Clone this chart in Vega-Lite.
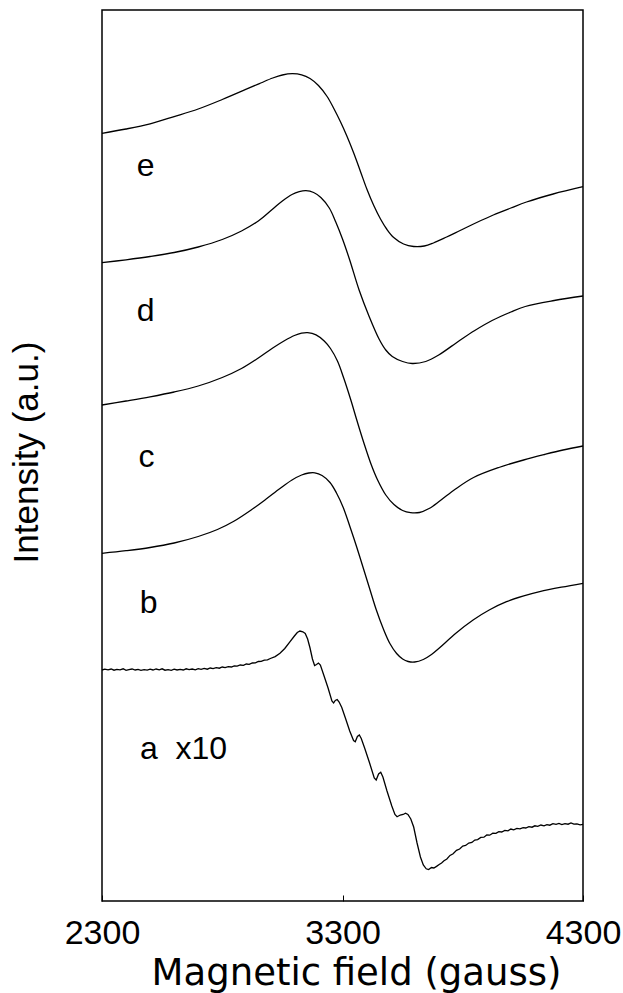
{
  "$schema": "https://vega.github.io/schema/vega-lite/v6.json",
  "width": 481,
  "height": 891,
  "autosize": {"type": "none"},
  "padding": {"left": 102, "top": 10, "right": 40, "bottom": 92},
  "background": "white",
  "config": {"view": {"stroke": "black", "strokeWidth": 1.5}, "font": "Liberation Sans"},
  "datasets": {
    "curves": [
      {"s":"e","B":2300,"I":767.7},{"s":"e","B":2400,"I":772},{"s":"e","B":2500,"I":777.2},{"s":"e","B":2600,"I":784.4},{"s":"e","B":2700,"I":792},{"s":"e","B":2800,"I":801.5},{"s":"e","B":2900,"I":811.8},{"s":"e","B":2960,"I":818},{"s":"e","B":3010,"I":823},{"s":"e","B":3050,"I":826},{"s":"e","B":3091,"I":827.3},{"s":"e","B":3130,"I":826.2},{"s":"e","B":3165,"I":822.5},{"s":"e","B":3200,"I":815.5},{"s":"e","B":3236,"I":804.5},{"s":"e","B":3265,"I":792},{"s":"e","B":3292,"I":779},{"s":"e","B":3319,"I":764.5},{"s":"e","B":3347,"I":747.7},{"s":"e","B":3375,"I":729.3},{"s":"e","B":3402,"I":711.5},{"s":"e","B":3430,"I":695.5},{"s":"e","B":3458,"I":682},{"s":"e","B":3485,"I":671.5},{"s":"e","B":3513,"I":663.5},{"s":"e","B":3554,"I":657},{"s":"e","B":3596,"I":654.5},{"s":"e","B":3640,"I":655},{"s":"e","B":3678,"I":658},{"s":"e","B":3733,"I":664},{"s":"e","B":3789,"I":670.5},{"s":"e","B":3858,"I":678.5},{"s":"e","B":3927,"I":686},{"s":"e","B":4000,"I":693},{"s":"e","B":4065,"I":699},{"s":"e","B":4176,"I":707},{"s":"e","B":4300,"I":714.3},
      {"s":"d","B":2300,"I":638.3},{"s":"d","B":2400,"I":641.2},{"s":"d","B":2500,"I":644.5},{"s":"d","B":2600,"I":648.5},{"s":"d","B":2700,"I":654},{"s":"d","B":2800,"I":661.5},{"s":"d","B":2880,"I":670},{"s":"d","B":2950,"I":680},{"s":"d","B":3010,"I":692},{"s":"d","B":3050,"I":700},{"s":"d","B":3090,"I":706.5},{"s":"d","B":3120,"I":709.3},{"s":"d","B":3148,"I":710.3},{"s":"d","B":3180,"I":708.5},{"s":"d","B":3210,"I":703.5},{"s":"d","B":3245,"I":693},{"s":"d","B":3272,"I":679},{"s":"d","B":3300,"I":662},{"s":"d","B":3330,"I":641},{"s":"d","B":3369,"I":611},{"s":"d","B":3410,"I":585},{"s":"d","B":3452,"I":562},{"s":"d","B":3480,"I":551},{"s":"d","B":3507,"I":544.5},{"s":"d","B":3550,"I":539.5},{"s":"d","B":3590,"I":537.5},{"s":"d","B":3646,"I":539.5},{"s":"d","B":3700,"I":546},{"s":"d","B":3784,"I":560},{"s":"d","B":3850,"I":570.5},{"s":"d","B":3922,"I":580.5},{"s":"d","B":4000,"I":589},{"s":"d","B":4060,"I":594.5},{"s":"d","B":4180,"I":600.5},{"s":"d","B":4300,"I":605},
      {"s":"c","B":2300,"I":496},{"s":"c","B":2400,"I":500},{"s":"c","B":2500,"I":504.2},{"s":"c","B":2600,"I":509},{"s":"c","B":2700,"I":515},{"s":"c","B":2800,"I":523.5},{"s":"c","B":2880,"I":532.5},{"s":"c","B":2950,"I":543},{"s":"c","B":3010,"I":553},{"s":"c","B":3060,"I":560.5},{"s":"c","B":3100,"I":565.5},{"s":"c","B":3130,"I":567.8},{"s":"c","B":3155,"I":568.3},{"s":"c","B":3190,"I":566.2},{"s":"c","B":3224,"I":560},{"s":"c","B":3250,"I":552.5},{"s":"c","B":3279,"I":540},{"s":"c","B":3305,"I":523},{"s":"c","B":3334,"I":501.5},{"s":"c","B":3360,"I":480.5},{"s":"c","B":3389,"I":458},{"s":"c","B":3420,"I":436},{"s":"c","B":3445,"I":421.5},{"s":"c","B":3480,"I":406},{"s":"c","B":3514,"I":396.5},{"s":"c","B":3550,"I":390.5},{"s":"c","B":3583,"I":388.3},{"s":"c","B":3620,"I":388.5},{"s":"c","B":3660,"I":392.5},{"s":"c","B":3707,"I":400.5},{"s":"c","B":3770,"I":412},{"s":"c","B":3845,"I":423.5},{"s":"c","B":3950,"I":433.5},{"s":"c","B":4053,"I":441},{"s":"c","B":4140,"I":446.5},{"s":"c","B":4217,"I":451},{"s":"c","B":4300,"I":455},
      {"s":"b","B":2300,"I":347.7},{"s":"b","B":2400,"I":350.3},{"s":"b","B":2500,"I":353.5},{"s":"b","B":2600,"I":358},{"s":"b","B":2700,"I":364.5},{"s":"b","B":2780,"I":371.5},{"s":"b","B":2850,"I":380},{"s":"b","B":2920,"I":391},{"s":"b","B":2980,"I":401.5},{"s":"b","B":3040,"I":412.5},{"s":"b","B":3090,"I":421},{"s":"b","B":3130,"I":426},{"s":"b","B":3160,"I":428},{"s":"b","B":3185,"I":428.2},{"s":"b","B":3215,"I":425.5},{"s":"b","B":3248,"I":418.5},{"s":"b","B":3275,"I":408},{"s":"b","B":3303,"I":393.5},{"s":"b","B":3330,"I":375},{"s":"b","B":3359,"I":354},{"s":"b","B":3385,"I":334},{"s":"b","B":3414,"I":311.5},{"s":"b","B":3440,"I":291.5},{"s":"b","B":3470,"I":272},{"s":"b","B":3497,"I":257.5},{"s":"b","B":3525,"I":247.5},{"s":"b","B":3550,"I":242},{"s":"b","B":3573,"I":239.5},{"s":"b","B":3600,"I":239},{"s":"b","B":3636,"I":241.5},{"s":"b","B":3670,"I":246.5},{"s":"b","B":3705,"I":253.5},{"s":"b","B":3770,"I":267.5},{"s":"b","B":3843,"I":281},{"s":"b","B":3910,"I":291},{"s":"b","B":3982,"I":299.3},{"s":"b","B":4050,"I":304.8},{"s":"b","B":4120,"I":309.3},{"s":"b","B":4210,"I":313.8},{"s":"b","B":4300,"I":317.7},
      {"s":"a","B":2300,"I":231},{"s":"a","B":2312,"I":231.8},{"s":"a","B":2325,"I":231.2},{"s":"a","B":2338,"I":232},{"s":"a","B":2350,"I":230.8},{"s":"a","B":2362,"I":231.6},{"s":"a","B":2375,"I":231.2},{"s":"a","B":2388,"I":232.2},{"s":"a","B":2400,"I":230.6},{"s":"a","B":2412,"I":231.4},{"s":"a","B":2425,"I":232},{"s":"a","B":2438,"I":231},{"s":"a","B":2450,"I":231.6},{"s":"a","B":2462,"I":230.6},{"s":"a","B":2475,"I":231.4},{"s":"a","B":2488,"I":230.8},{"s":"a","B":2500,"I":231.8},{"s":"a","B":2512,"I":231},{"s":"a","B":2525,"I":232},{"s":"a","B":2538,"I":231.2},{"s":"a","B":2550,"I":232.2},{"s":"a","B":2562,"I":230.8},{"s":"a","B":2575,"I":231.4},{"s":"a","B":2588,"I":230.6},{"s":"a","B":2600,"I":231.8},{"s":"a","B":2612,"I":231},{"s":"a","B":2625,"I":231.6},{"s":"a","B":2638,"I":231},{"s":"a","B":2650,"I":232.2},{"s":"a","B":2662,"I":231.4},{"s":"a","B":2675,"I":232},{"s":"a","B":2688,"I":231.2},{"s":"a","B":2700,"I":232.4},{"s":"a","B":2712,"I":231.6},{"s":"a","B":2725,"I":232.6},{"s":"a","B":2738,"I":231.8},{"s":"a","B":2750,"I":233},{"s":"a","B":2762,"I":232.4},{"s":"a","B":2775,"I":233.4},{"s":"a","B":2788,"I":232.8},{"s":"a","B":2800,"I":234},{"s":"a","B":2812,"I":233.4},{"s":"a","B":2825,"I":234.4},{"s":"a","B":2838,"I":234},{"s":"a","B":2850,"I":235.2},{"s":"a","B":2862,"I":234.8},{"s":"a","B":2875,"I":236},{"s":"a","B":2888,"I":235.6},{"s":"a","B":2900,"I":237},{"s":"a","B":2912,"I":236.6},{"s":"a","B":2925,"I":238},{"s":"a","B":2938,"I":238.2},{"s":"a","B":2950,"I":239.5},{"s":"a","B":2962,"I":239.6},{"s":"a","B":2975,"I":240.8},{"s":"a","B":2988,"I":241.2},{"s":"a","B":3000,"I":242.5},{"s":"a","B":3020,"I":244.4},{"s":"a","B":3040,"I":247.7},{"s":"a","B":3060,"I":252.5},{"s":"a","B":3082,"I":259.3},{"s":"a","B":3100,"I":265},{"s":"a","B":3112,"I":268.5},{"s":"a","B":3123,"I":270},{"s":"a","B":3135,"I":269.2},{"s":"a","B":3145,"I":267.5},{"s":"a","B":3155,"I":262},{"s":"a","B":3165,"I":253},{"s":"a","B":3175,"I":242},{"s":"a","B":3184,"I":235.5},{"s":"a","B":3192,"I":236.5},{"s":"a","B":3200,"I":238},{"s":"a","B":3208,"I":236},{"s":"a","B":3222,"I":226},{"s":"a","B":3240,"I":213},{"s":"a","B":3256,"I":200},{"s":"a","B":3263,"I":198},{"s":"a","B":3270,"I":200.5},{"s":"a","B":3278,"I":201.5},{"s":"a","B":3286,"I":199},{"s":"a","B":3297,"I":193.5},{"s":"a","B":3312,"I":183},{"s":"a","B":3330,"I":170},{"s":"a","B":3346,"I":160.5},{"s":"a","B":3353,"I":159.3},{"s":"a","B":3362,"I":164.5},{"s":"a","B":3370,"I":166},{"s":"a","B":3378,"I":162.5},{"s":"a","B":3392,"I":153},{"s":"a","B":3412,"I":138.5},{"s":"a","B":3432,"I":123},{"s":"a","B":3440,"I":121},{"s":"a","B":3450,"I":127},{"s":"a","B":3459,"I":128.7},{"s":"a","B":3468,"I":124},{"s":"a","B":3485,"I":110},{"s":"a","B":3505,"I":95},{"s":"a","B":3518,"I":86.5},{"s":"a","B":3527,"I":84.3},{"s":"a","B":3540,"I":86},{"s":"a","B":3552,"I":86.5},{"s":"a","B":3562,"I":87.8},{"s":"a","B":3572,"I":86.5},{"s":"a","B":3584,"I":82},{"s":"a","B":3596,"I":74},{"s":"a","B":3610,"I":58},{"s":"a","B":3624,"I":44},{"s":"a","B":3636,"I":36},{"s":"a","B":3648,"I":32.2},{"s":"a","B":3658,"I":31.5},{"s":"a","B":3670,"I":33.5},{"s":"a","B":3680,"I":33},{"s":"a","B":3691,"I":34.6},{"s":"a","B":3702,"I":36.5},{"s":"a","B":3712,"I":38},{"s":"a","B":3722,"I":40.2},{"s":"a","B":3734,"I":42},{"s":"a","B":3747,"I":45.6},{"s":"a","B":3760,"I":47.2},{"s":"a","B":3774,"I":50.6},{"s":"a","B":3787,"I":52},{"s":"a","B":3800,"I":55},{"s":"a","B":3812,"I":55.6},{"s":"a","B":3825,"I":58},{"s":"a","B":3838,"I":58.6},{"s":"a","B":3850,"I":61},{"s":"a","B":3862,"I":61.4},{"s":"a","B":3875,"I":63.6},{"s":"a","B":3888,"I":63.8},{"s":"a","B":3900,"I":66},{"s":"a","B":3912,"I":65.8},{"s":"a","B":3925,"I":67.8},{"s":"a","B":3938,"I":67.6},{"s":"a","B":3950,"I":69.4},{"s":"a","B":3962,"I":69},{"s":"a","B":3975,"I":70.6},{"s":"a","B":3988,"I":70.2},{"s":"a","B":4000,"I":72},{"s":"a","B":4012,"I":71.2},{"s":"a","B":4025,"I":72.6},{"s":"a","B":4038,"I":72.2},{"s":"a","B":4051,"I":73.4},{"s":"a","B":4062,"I":73},{"s":"a","B":4075,"I":74.4},{"s":"a","B":4088,"I":73.8},{"s":"a","B":4100,"I":75.2},{"s":"a","B":4112,"I":74.6},{"s":"a","B":4125,"I":76},{"s":"a","B":4138,"I":75.2},{"s":"a","B":4150,"I":76.4},{"s":"a","B":4162,"I":75.8},{"s":"a","B":4175,"I":77.4},{"s":"a","B":4188,"I":76.6},{"s":"a","B":4200,"I":77.6},{"s":"a","B":4212,"I":76.4},{"s":"a","B":4225,"I":77.4},{"s":"a","B":4238,"I":76.8},{"s":"a","B":4250,"I":78},{"s":"a","B":4262,"I":76.8},{"s":"a","B":4275,"I":77.2},{"s":"a","B":4288,"I":76.2},{"s":"a","B":4300,"I":76.6}
    ],
    "labels": [
      {"label":"e","B":2445,"I":725},
      {"label":"d","B":2445,"I":580},
      {"label":"c","B":2452,"I":434},
      {"label":"b","B":2457,"I":288},
      {"label":"a\u00a0\u00a0x10","B":2458,"I":142}
    ]
  },
  "encoding": {
    "x": {"field": "B", "type": "quantitative", "scale": {"domain": [2300, 4300], "nice": false, "zero": false},
      "axis": {"title": "Magnetic field (gauss)", "values": [2300, 3300, 4300], "format": "d", "grid": false, "domain": false,
        "tickSize": -6, "tickColor": "black", "tickWidth": 1,
        "labelFontSize": 34, "labelFont": "Liberation Sans", "labelColor": "black", "labelBaseline": "alphabetic", "labelPadding": 48, "labelFlush": false, "labelOverlap": false,
        "titleFontSize": 37, "titleFont": "DejaVu Sans", "titleFontWeight": "normal", "titleColor": "black", "titleBaseline": "alphabetic", "titleAlign": "center", "titleX": 254, "titleY": 83}},
    "y": {"field": "I", "type": "quantitative", "scale": {"domain": [0, 891], "nice": false, "zero": false},
      "axis": {"title": "Intensity (a.u.)", "ticks": false, "labels": false, "domain": false, "grid": false,
        "titleFontSize": 35, "titleFont": "Liberation Sans", "titleFontWeight": "normal", "titleColor": "black", "titleAngle": -90, "titleBaseline": "alphabetic", "titleAlign": "center", "titleX": -65, "titleY": 442}}
  },
  "layer": [
    {
      "data": {"name": "curves"},
      "transform": [{"filter": "datum.s !== 'a'"}],
      "mark": {"type": "line", "color": "black", "strokeWidth": 1.3, "interpolate": "catmull-rom"},
      "encoding": {"detail": {"field": "s", "type": "nominal"}}
    },
    {
      "data": {"name": "curves"},
      "transform": [{"filter": "datum.s === 'a'"}],
      "mark": {"type": "line", "color": "black", "strokeWidth": 1.3, "interpolate": "linear"},
      "encoding": {"detail": {"field": "s", "type": "nominal"}}
    },
    {
      "data": {"name": "labels"},
      "mark": {"type": "text", "align": "left", "baseline": "alphabetic", "fontSize": 32, "font": "Liberation Sans", "color": "black"},
      "encoding": {"text": {"field": "label"}}
    }
  ]
}
